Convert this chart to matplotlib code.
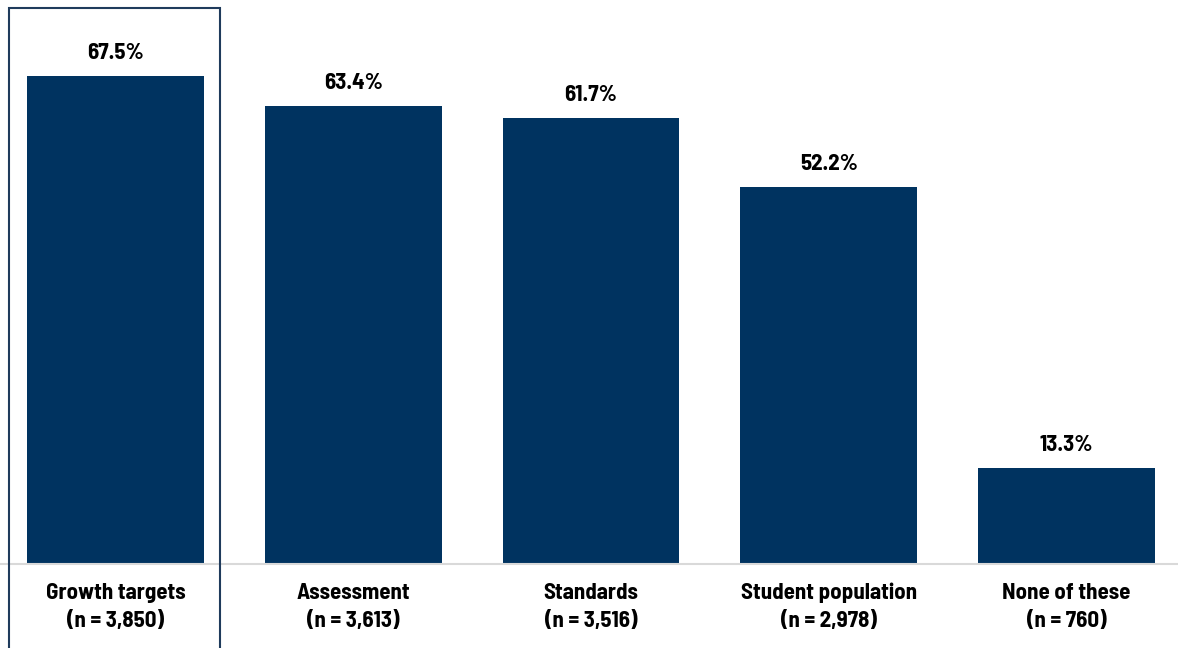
import matplotlib.pyplot as plt
from matplotlib.patches import Rectangle

categories = ["Growth targets", "Assessment", "Standards", "Student population", "None of these"]
counts = ["3,850", "3,613", "3,516", "2,978", "760"]
percents = [67.5, 63.4, 61.7, 52.2, 13.3]

navy = "#003360"

plt.rcParams["font.family"] = ["Barlow Semi Condensed", "Liberation Sans", "DejaVu Sans"]
label_kw = dict(ha="center", va="center", fontsize=16.5, fontweight="bold",
                color="black", textcoords="offset pixels", annotation_clip=False)

fig = plt.figure(figsize=(11.78, 6.48), dpi=100)
ax = fig.add_axes([0, 84 / 648, 1, 564 / 648])

x = list(range(len(categories)))
ax.bar(x, percents, width=0.744, color=navy)

# value labels above bars
for xi, p in zip(x, percents):
    ax.annotate(f"{p:.1f}%", (xi, p), xytext=(0, 23), **label_kw)

# two-line category labels under the baseline
for xi, c, n in zip(x, categories, counts):
    ax.annotate(c, (xi, 0), xytext=(0, -29), **label_kw)
    ax.annotate(f"(n = {n})", (xi, 0), xytext=(0, -57), **label_kw)

ax.set_xlim(-115.5 / 238, 4 + (1178 - 1066.5) / 238)
ax.set_ylim(0, 78.0)
ax.set_xticks([])
ax.set_yticks([])
for side in ["top", "right", "left"]:
    ax.spines[side].set_visible(False)
ax.spines["bottom"].set_color("#d9d9d9")
ax.spines["bottom"].set_linewidth(1.5)

# outline around the first category
fig.patches.append(Rectangle((8.5 / 1178, -0.01), 211 / 1178, 640.5 / 648 + 0.01,
                             transform=fig.transFigure, fill=False,
                             edgecolor="#1f3b5c", linewidth=1.5))

fig.savefig("out.png", dpi=100)
